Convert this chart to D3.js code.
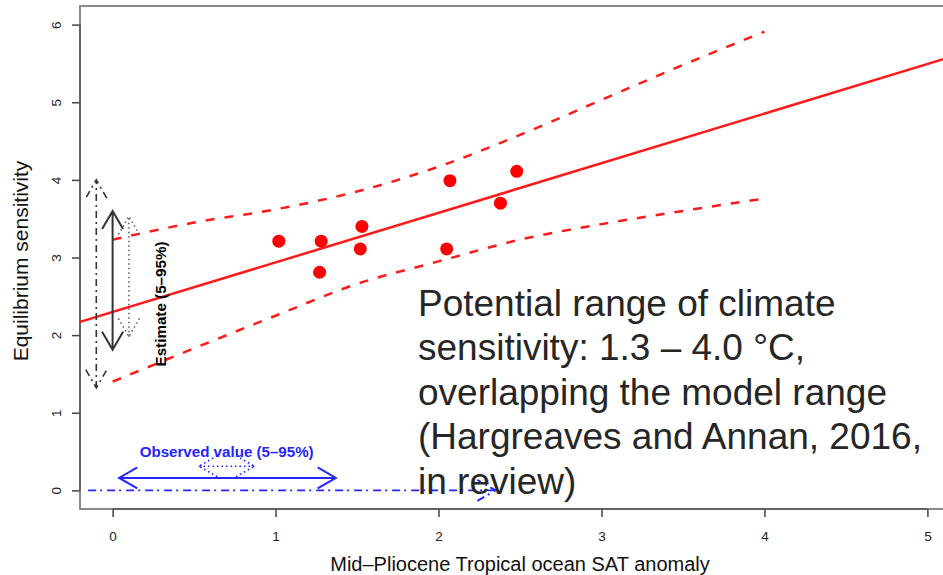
<!DOCTYPE html>
<html>
<head>
<meta charset="utf-8">
<script src="https://cdn.jsdelivr.net/npm/d3@7"></script>
<style>
  html, body { margin: 0; padding: 0; background: #fff; }
  svg { display: block; font-family: "Liberation Sans", Arial, Helvetica, sans-serif; }
</style>
</head>
<body>
<script>
// model points: tropical SAT anomaly vs equilibrium sensitivity
var satAnomaly = [1.02, 1.28, 1.27, 1.53, 1.52, 2.07, 2.05, 2.38, 2.48];
var sensitivity = [3.21, 3.21, 2.81, 3.40, 3.11, 3.99, 3.11, 3.70, 4.11];

// regression line (ends at the plot edges)
var fitX = [-0.2, 5.2];
var fitY = [2.17, 5.62];

// 5-95% prediction band
var bandX = [0, 0.5, 1, 1.5, 2, 2.5, 3, 3.5, 4];
var bandUpper = [3.23, 3.45, 3.62, 3.85, 4.17, 4.58, 5.03, 5.48, 5.91];
var bandLower = [1.40, 1.83, 2.25, 2.66, 2.95, 3.23, 3.43, 3.60, 3.76];

// vertical estimate arrows (dot-dash, solid, dotted)
var estX = [-0.1, 0, 0.1];
var estLow = [1.32, 1.81, 1.98];
var estHigh = [4.0, 3.6, 3.53];

// horizontal observed-value arrows (solid, dotted)
var obsY = [0.16, 0.31];
var obsLow = [0.04, 0.53];
var obsHigh = [1.37, 0.87];

// dot-dash arrow along zero
var zeroLine = [-0.15, 2.35];

var xTicks = [0, 1, 2, 3, 4, 5];
var yTicks = [0, 1, 2, 3, 4, 5, 6];

var noteLines = [
  "Potential range of climate",
  "sensitivity: 1.3 \u2013 4.0 \u00b0C,",
  "overlapping the model range",
  "(Hargreaves and Annan, 2016,",
  "in review)"
];

var w = 943;
var h = 575;
var box = {left: 80, right: 960, top: 6, bottom: 509};

var svg = d3.select("body")
  .append("svg")
  .attr("width", w)
  .attr("height", h);

var x = d3.scaleLinear().domain([-0.2, 5.2]).range([box.left, box.right]);
var y = d3.scaleLinear().domain([-0.24, 6.24]).range([box.bottom, box.top]);

var red = "#ff1a1a";
var blue = "#2525ff";

// plot frame
svg.append("rect")
  .attr("x", box.left)
  .attr("y", box.top)
  .attr("width", box.right - box.left)
  .attr("height", box.bottom - box.top)
  .attr("fill", "none")
  .attr("stroke", "#8a8a8a")
  .attr("stroke-width", 2);

// axes (R style: line only over the tick span)
var xAxis = d3.axisBottom(x).tickValues(xTicks).tickSize(8).tickPadding(14).tickFormat(d3.format("d"));
var gx = svg.append("g")
  .attr("transform", "translate(0," + box.bottom + ")")
  .call(xAxis);
gx.select(".domain").remove();
gx.append("line")
  .attr("x1", x(0)).attr("x2", x(5))
  .attr("stroke", "#555").attr("stroke-width", 1.5);

var yAxis = d3.axisLeft(y).tickValues(yTicks).tickSize(8).tickFormat(d3.format("d"));
var gy = svg.append("g")
  .attr("transform", "translate(" + box.left + ",0)")
  .call(yAxis);
gy.select(".domain").remove();
gy.append("line")
  .attr("y1", y(0)).attr("y2", y(6))
  .attr("stroke", "#555").attr("stroke-width", 1.5);

svg.selectAll(".tick line").attr("stroke", "#444").attr("stroke-width", 1.5);
svg.selectAll(".tick text")
  .attr("fill", "#222")
  .style("font-size", "13.5px")
  .style("font-family", "'Liberation Sans', Arial, sans-serif");

// rotate y tick labels like R's default
gy.selectAll(".tick text")
  .attr("x", null)
  .attr("dy", null)
  .attr("text-anchor", "middle")
  .attr("transform", "translate(-24,0) rotate(-90)")
  .attr("dy", "0.35em");

// axis titles
svg.append("text")
  .attr("x", (box.left + box.right) / 2)
  .attr("y", 571)
  .attr("text-anchor", "middle")
  .attr("fill", "#111")
  .style("font-size", "20px")
  .text("Mid\u2013Pliocene Tropical ocean SAT anomaly");

svg.append("text")
  .attr("transform", "translate(28,261) rotate(-90)")
  .attr("text-anchor", "middle")
  .attr("fill", "#111")
  .style("font-size", "21px")
  .text("Equilibrium sensitivity");

// regression line and band
var plot = svg.append("g");

plot.append("line")
  .attr("x1", x(fitX[0])).attr("y1", y(fitY[0]))
  .attr("x2", x(fitX[1])).attr("y2", y(fitY[1]))
  .attr("stroke", red)
  .attr("stroke-width", 2.5);

var band = d3.line()
  .x(function(d) { return x(d[0]); })
  .y(function(d) { return y(d[1]); })
  .curve(d3.curveMonotoneX);

[bandUpper, bandLower].forEach(function(vals) {
  plot.append("path")
    .datum(bandX.map(function(v, i) { return [v, vals[i]]; }))
    .attr("d", band)
    .attr("fill", "none")
    .attr("stroke", red)
    .attr("stroke-width", 2.5)
    .attr("stroke-dasharray", "9,10");
});

plot.selectAll("circle")
  .data(satAnomaly)
  .enter()
  .append("circle")
  .attr("cx", function(d) { return x(d); })
  .attr("cy", function(d, i) { return y(sensitivity[i]); })
  .attr("r", 6.5)
  .attr("fill", "#ff0000");

// arrow with open heads, drawn in pixel space
var headLen = 21;
var headAng = Math.PI / 6;
var arrow = function(g, x1, y1, x2, y2, both, style) {
  var p = d3.path();
  p.moveTo(x1, y1);
  p.lineTo(x2, y2);
  var ends = both ? [[x2, y2, x1, y1], [x1, y1, x2, y2]] : [[x2, y2, x1, y1]];
  ends.forEach(function(e) {
    var a = Math.atan2(e[1] - e[3], e[0] - e[2]);
    p.moveTo(e[0] - headLen * Math.cos(a - headAng), e[1] - headLen * Math.sin(a - headAng));
    p.lineTo(e[0], e[1]);
    p.lineTo(e[0] - headLen * Math.cos(a + headAng), e[1] - headLen * Math.sin(a + headAng));
  });
  g.append("path")
    .attr("d", p.toString())
    .attr("fill", "none")
    .attr("stroke", style.color)
    .attr("stroke-width", style.width)
    .attr("stroke-dasharray", style.dash);
};

var estStyles = [
  {color: "#333", width: 1.6, dash: "7,4,2,4"},
  {color: "#333", width: 2, dash: null},
  {color: "#666", width: 1.6, dash: "1.5,3"}
];
estX.forEach(function(v, i) {
  arrow(plot, x(v), y(estLow[i]), x(v), y(estHigh[i]), true, estStyles[i]);
});

svg.append("text")
  .attr("transform", "translate(" + (x(0) + 48) + "," + 304 + ") rotate(-90)")
  .attr("text-anchor", "middle")
  .attr("dy", "0.35em")
  .attr("fill", "#000")
  .attr("textLength", 125)
  .attr("lengthAdjust", "spacingAndGlyphs")
  .style("font-size", "14.5px")
  .style("font-weight", "bold")
  .text("Estimate (5\u201395%)");

var obsStyles = [
  {color: blue, width: 2, dash: null},
  {color: blue, width: 1.6, dash: "1.5,3"}
];
obsY.forEach(function(v, i) {
  arrow(plot, x(obsLow[i]), y(v), x(obsHigh[i]), y(v), true, obsStyles[i]);
});

// dot-dash line along zero with head at the right
arrow(plot, x(zeroLine[0]), y(0), x(zeroLine[1]), y(0), false, {color: blue, width: 1.8, dash: "8,4,2,5"});

svg.append("text")
  .attr("x", x(0.7))
  .attr("y", y(0.5))
  .attr("dy", "0.35em")
  .attr("text-anchor", "middle")
  .attr("fill", blue)
  .attr("textLength", 174)
  .attr("lengthAdjust", "spacingAndGlyphs")
  .style("font-size", "14.5px")
  .style("font-weight", "bold")
  .text("Observed value (5\u201395%)");

// slide annotation
svg.append("g")
  .selectAll("text")
  .data(noteLines)
  .enter()
  .append("text")
  .attr("x", 418)
  .attr("y", function(d, i) { return 316 + i * 44.4; })
  .attr("fill", "#262626")
  .style("font-size", "37px")
  .text(function(d) { return d; });
</script>
</body>
</html>
